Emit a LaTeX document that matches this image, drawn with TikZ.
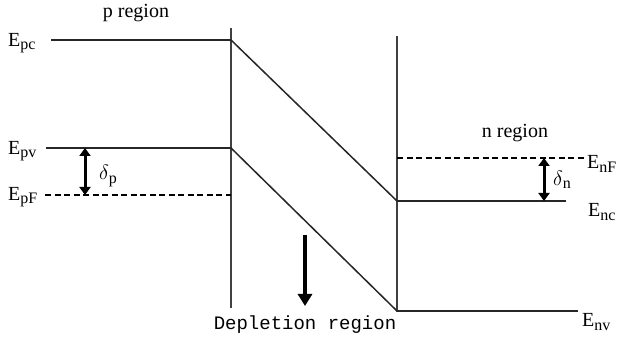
\documentclass[tikz,border=0pt]{standalone}
\usepackage{fontspec}
\setmainfont{Liberation Serif}
\setmonofont{Liberation Mono}
\usetikzlibrary{arrows.meta}
\newcommand{\Elab}[2]{#1\raisebox{-0.35ex}{\fontsize{16}{18}\selectfont #2}}
\begin{document}
\begin{tikzpicture}[x=1pt,y=-1pt,
  band/.style={line width=2pt,draw=black!85},
  wall/.style={line width=2.4pt,draw=black!75},
  slope/.style={line width=1.5pt,draw=black!85},
  fermi/.style={line width=2.4pt,dash pattern=on 6pt off 3.5pt},
  gap/.style={line width=3pt,{Triangle[length=8pt,width=11pt]}-{Triangle[length=8pt,width=11pt]}},
  lbl/.style={font=\fontsize{20}{22}\selectfont,inner sep=0pt}]
\useasboundingbox (0,0) rectangle (621,344);
% coordinates
\coordinate (wlt) at (231,28);  \coordinate (wlb) at (231,308);
\coordinate (wrt) at (397,36);  \coordinate (wrb) at (397,312);
\coordinate (pc0) at (51,40);   \coordinate (pc1) at (231,40);
\coordinate (pv0) at (46,148);  \coordinate (pv1) at (231,148);
\coordinate (pf0) at (45,195);  \coordinate (pf1) at (231,195);
\coordinate (nc0) at (397,201); \coordinate (nc1) at (566,201);
\coordinate (nv0) at (397,311); \coordinate (nv1) at (578,311);
\coordinate (nf0) at (397,158); \coordinate (nf1) at (586,158);
\coordinate (dpa) at (85,148);  \coordinate (dpb) at (85,195);
\coordinate (dna) at (544,158); \coordinate (dnb) at (544,201);
\coordinate (da) at (305,235);  \coordinate (db) at (305,306);
% walls
\draw[wall] (wlt) -- (wlb);
\draw[wall] (wrt) -- (wrb);
% bands
\draw[band] (pc0) -- (pc1);
\draw[slope] (pc1) -- (nc0);
\draw[band] (nc0) -- (nc1);
\draw[band] (pv0) -- (pv1);
\draw[slope] (pv1) -- (nv0);
\draw[band] (nv0) -- (nv1);
\draw[fermi] (pf0) -- (pf1);
\draw[fermi] (nf0) -- (nf1);
% arrows
\draw[gap] (dpa) -- (dpb);
\draw[gap] (dna) -- (dnb);
\draw[line width=4pt,-{Triangle[length=12pt,width=14pt]}] (da) -- (db);
% labels
\node[lbl] (preg) at (136,13) {p region};
\node[lbl] (nreg) at (515,133) {n region};
\node[font=\ttfamily\fontsize{19}{21}\selectfont,inner sep=0pt] (dreg) at (305,325) {Depletion region};
\node[lbl,anchor=west] (Epc) at (8,43) {\Elab{E}{pc}};
\node[lbl,anchor=west] (Epv) at (8,151) {\Elab{E}{pv}};
\node[lbl,anchor=west] (EpF) at (8,197) {\Elab{E}{pF}};
\node[lbl,anchor=west] (EnF) at (587,164) {\Elab{E}{nF}};
\node[lbl,anchor=west] (Enc) at (588,212) {\Elab{E}{nc}};
\node[lbl,anchor=west] (Env) at (582,322) {\Elab{E}{nv}};
\node[lbl,anchor=west] (dp) at (99,176) {\Elab{$\delta$}{p}};
\node[lbl,anchor=west] (dn) at (553,180) {\Elab{$\delta$}{n}};
\end{tikzpicture}
\end{document}
